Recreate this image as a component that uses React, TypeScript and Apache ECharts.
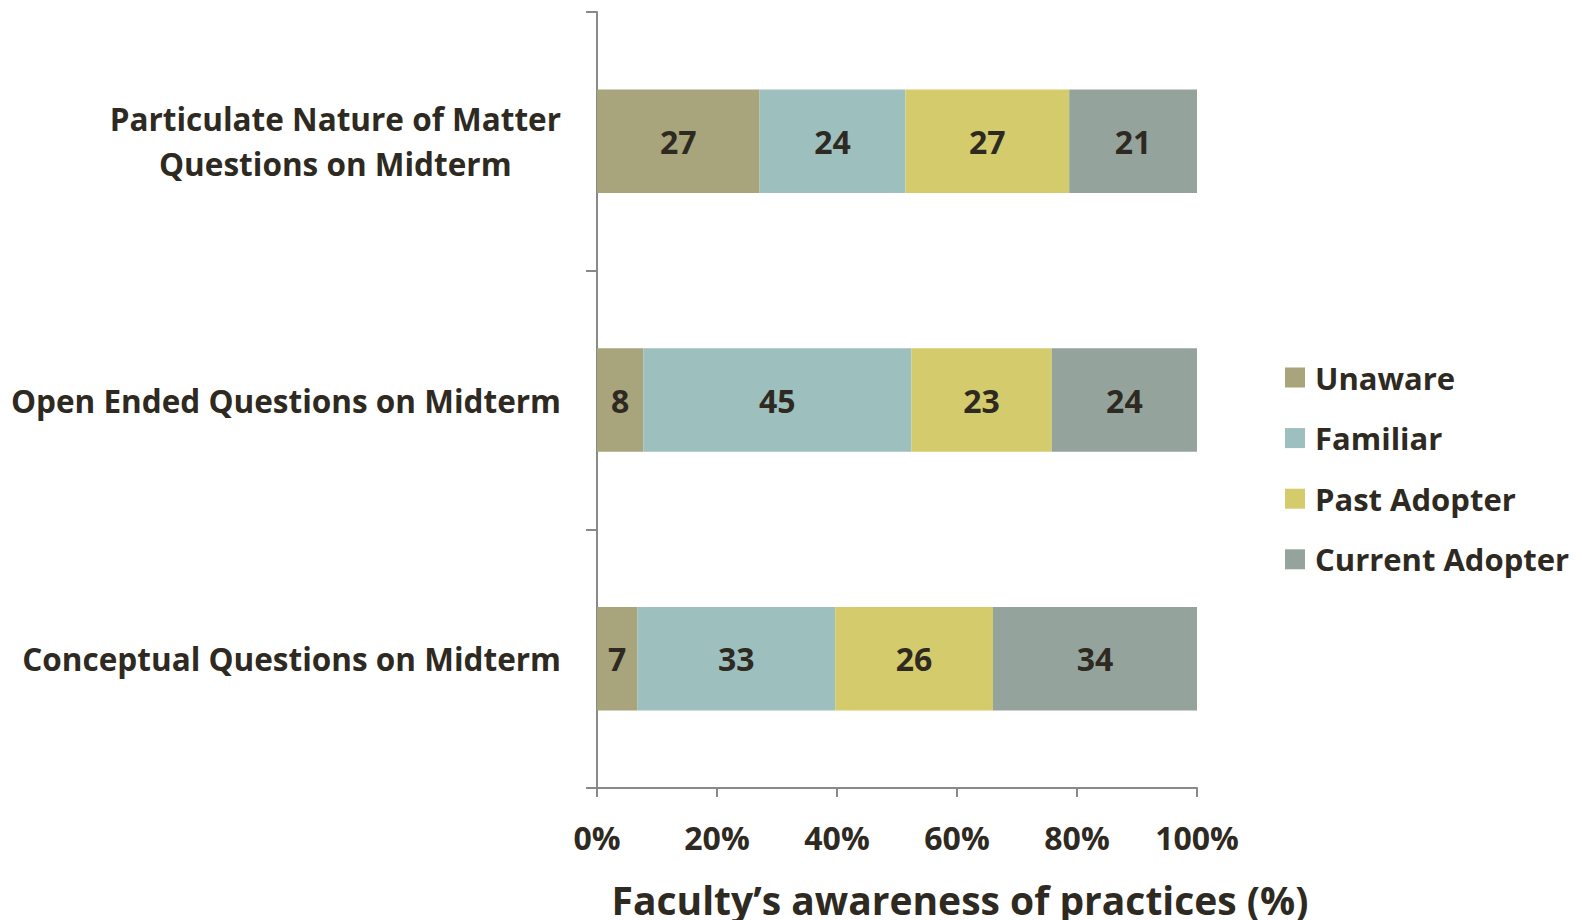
import React, { useEffect, useRef } from "react";
import * as echarts from "echarts";

const categories = [
  "Particulate Nature of Matter\nQuestions on Midterm",
  "Open Ended Questions on Midterm",
  "Conceptual Questions on Midterm",
];
const seriesNames = ["Unaware", "Familiar", "Past Adopter", "Current Adopter"];
const unaware = [27.1, 7.7, 6.7];
const familiar = [24.3, 44.7, 33.0];
const pastAdopter = [27.3, 23.4, 26.3];
const currentAdopter = [21.3, 24.2, 34.0];
const xTicks = [0, 20, 40, 60, 80, 100];

const colors = ["#a8a47b", "#9dbfbe", "#d3cb6c", "#94a49c"];
const textColor = "#2e2a22";
const FONT = "Open Sans";

export default function App() {
  const ref = useRef<HTMLDivElement>(null);
  useEffect(() => {
    if (!ref.current) return;
    const chart = echarts.init(ref.current, null, { renderer: "svg" });
    const values = [unaware, familiar, pastAdopter, currentAdopter];
    chart.setOption({
      animation: false,
      textStyle: { fontFamily: FONT, fontWeight: "bold", color: textColor },
      grid: {
        left: 597,
        right: 379,
        top: 12,
        bottom: 132,
        containLabel: false,
        outerBoundsMode: "none",
      },
      legend: {
        orient: "vertical",
        left: 1280,
        top: 357,
        itemWidth: 20,
        itemHeight: 20,
        itemGap: 29.6,
        icon: "rect",
        data: seriesNames,
        textStyle: { fontFamily: FONT, fontWeight: "bold", fontSize: 31, color: textColor, padding: [0, 0, 0, 5] },
      },
      xAxis: {
        type: "value",
        min: xTicks[0],
        max: xTicks[xTicks.length - 1],
        interval: 20,
        name: "Faculty\u2019s awareness of practices (%)",
        nameLocation: "middle",
        nameGap: 89,
        nameTextStyle: {
          fontFamily: FONT,
          fontWeight: "bold",
          fontSize: 39,
          lineHeight: 44,
          color: textColor,
          padding: [0, 0, 0, 126],
        },
        axisLine: { show: true, lineStyle: { color: "#898989", width: 2 } },
        axisTick: { show: true, length: 9, lineStyle: { color: "#898989", width: 2 } },
        splitLine: { show: false },
        axisLabel: {
          formatter: "{value}%",
          margin: 33,
          fontFamily: FONT,
          fontWeight: "bold",
          fontSize: 32,
          color: textColor,
        },
      },
      yAxis: {
        type: "category",
        inverse: true,
        data: categories,
        axisLine: { show: true, lineStyle: { color: "#898989", width: 2 } },
        axisTick: { show: true, length: 11, inside: false, lineStyle: { color: "#898989", width: 2 } },
        axisLabel: {
          margin: 36,
          formatter: (v: string) =>
            v
              .split("\n")
              .map((l) => `{a|${l}}`)
              .join("\n"),
          rich: {
            a: {
              align: "center",
              fontFamily: FONT,
              fontWeight: "bold",
              fontSize: 31.5,
              lineHeight: 45,
              color: textColor,
            },
          },
        },
      },
      series: seriesNames.map((name, i) => ({
        name,
        type: "bar",
        stack: "total",
        barWidth: "40%",
        data: values[i],
        itemStyle: { color: colors[i] },
        label: {
          show: true,
          position: "inside",
          formatter: (p: any) => String(Math.round(p.value)),
          fontFamily: FONT,
          fontWeight: "bold",
          fontSize: 32,
          color: textColor,
        },
      })),
    });
    return () => chart.dispose();
  }, []);
  return (
    <div
      ref={ref}
      style={{ position: "fixed", left: 0, top: 0, width: 1576, height: 920, background: "#fff" }}
    />
  );
}
